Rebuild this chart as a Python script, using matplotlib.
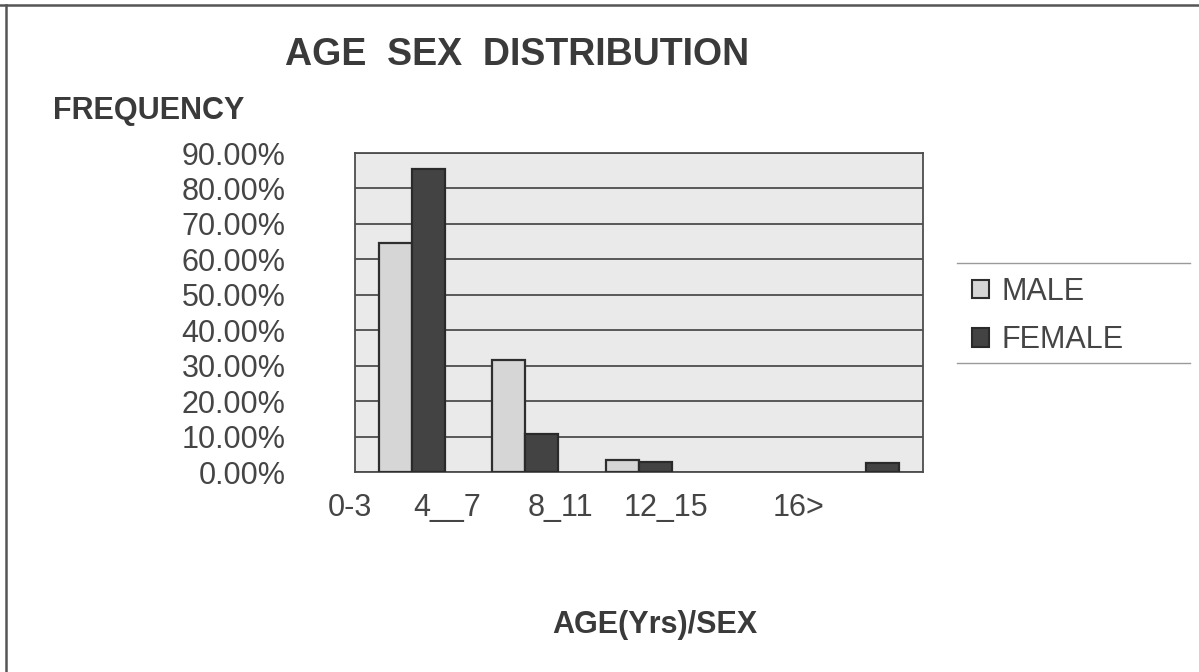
import numpy as np
import matplotlib
matplotlib.use("Agg")
import matplotlib.pyplot as plt
from matplotlib.transforms import ScaledTranslation
from matplotlib.patches import Patch
from matplotlib.lines import Line2D

plt.rcParams["font.family"] = ["Liberation Sans", "DejaVu Sans"]

# data
age_groups = ["0-3", "4__7", "8_11", "12_15", "16>"]
male = [64.7, 31.6, 3.4, 0.0, 0.0]
female = [85.4, 10.6, 2.8, 0.0, 2.5]
yticks = [0, 10, 20, 30, 40, 50, 60, 70, 80, 90]

# the tick labels sit left of their groups in the original (pixels)
label_shift = [-62, -78, -79, -87, -68]

text_col = "#3a3a3a"
line_col = "#4d4d4d"
male_col = "#d6d6d6"
female_col = "#434343"

fig = plt.figure(figsize=(11.99, 6.72), dpi=100)
ax = fig.add_axes([0.296, 0.2976, 0.474, 0.4747])

x = np.arange(len(age_groups))
w = 0.29
b1 = ax.bar(x - w / 2, male, w, color=male_col, edgecolor="#2e2e2e", linewidth=1.6,
            zorder=3, label="MALE")
b2 = ax.bar(x + w / 2, female, w, color=female_col, edgecolor="#2a2a2a", linewidth=1.6,
            zorder=3, label="FEMALE")
# empty bars leave no mark in the original
for bars in (b1, b2):
    for r in bars:
        if r.get_height() == 0:
            r.set_visible(False)

ax.set_facecolor("#eaeaea")
ax.set_xlim(-0.5, len(age_groups) - 0.5)
ax.set_ylim(0, 90)
ax.set_yticks(yticks)
ax.set_yticklabels(["%.2f%%" % v for v in yticks], fontsize=22, color="#454545")
ax.yaxis.grid(True, color=line_col, linewidth=1.3, zorder=1)
ax.set_axisbelow(True)
ax.tick_params(axis="y", length=0, pad=50)

ax.set_xticks(x)
ax.set_xticklabels(age_groups, fontsize=22, color="#454545")
ax.tick_params(axis="x", length=0, pad=15)
for lab, dx in zip(ax.get_xticklabels(), label_shift):
    lab.set_transform(lab.get_transform() + ScaledTranslation(dx / 100, 0, fig.dpi_scale_trans))

for s in ax.spines.values():
    s.set_color(line_col)
    s.set_linewidth(1.3)

fig.text(517 / 1199, 1 - 55 / 672, "AGE  SEX  DISTRIBUTION", ha="center", va="center",
         fontsize=27, fontweight="bold", color=text_col)
fig.text(53 / 1199, 1 - 111 / 672, "FREQUENCY", ha="left", va="center",
         fontsize=22, fontweight="bold", color=text_col)
fig.text(655 / 1199, 1 - 625 / 672, "AGE(Yrs)/SEX", ha="center", va="center",
         fontsize=22, fontweight="bold", color=text_col)

handles = [Patch(facecolor=male_col, edgecolor="#2e2e2e", linewidth=1.5),
           Patch(facecolor=female_col, edgecolor="#2a2a2a", linewidth=1.5)]
leg = fig.legend(handles, ["MALE", "FEMALE"], loc="center left",
                 bbox_to_anchor=(972 / 1199, 1 - 316 / 672), frameon=False,
                 fontsize=22, handlelength=0.55, handleheight=0.55,
                 handletextpad=0.4, labelspacing=0.6, borderpad=0, borderaxespad=0)
for t in leg.get_texts():
    t.set_color("#454545")

# legend rules and outer frame
for yy in (263, 363):
    fig.add_artist(Line2D([957 / 1199, 1190 / 1199], [1 - yy / 672] * 2,
                          color="#9a9a9a", linewidth=1.0))
fig.add_artist(Line2D([0, 1], [1 - 5 / 672] * 2, color="#555555", linewidth=1.8))
fig.add_artist(Line2D([6 / 1199] * 2, [0, 1 - 5 / 672], color="#555555", linewidth=1.8))

fig.savefig("out.png", dpi=100, facecolor="white")
